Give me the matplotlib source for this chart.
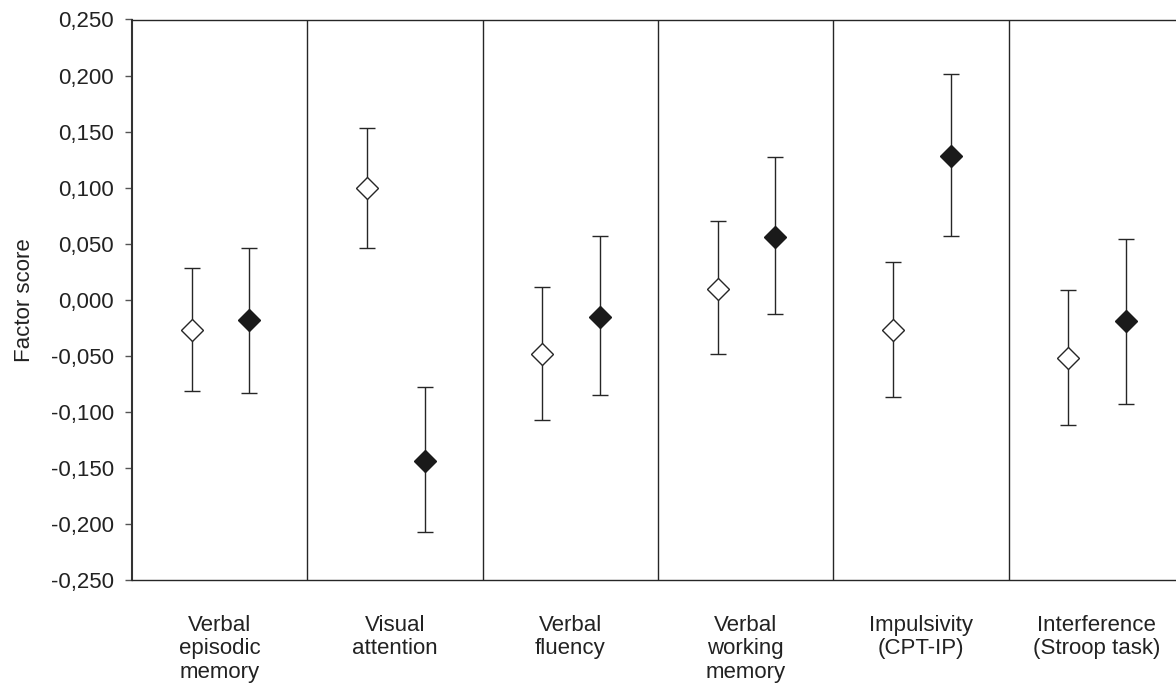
import matplotlib
matplotlib.use("Agg")
import matplotlib.pyplot as plt
from matplotlib.ticker import FuncFormatter, MultipleLocator
import numpy as np

categories = ["Verbal\nepisodic\nmemory", "Visual\nattention", "Verbal\nfluency",
              "Verbal\nworking\nmemory", "Impulsivity\n(CPT-IP)", "Interference\n(Stroop task)"]

open_mean = [-0.027, 0.100, -0.048, 0.010, -0.027, -0.052]
open_upper = [0.028, 0.153, 0.011, 0.070, 0.034, 0.009]
open_lower = [-0.081, 0.046, -0.107, -0.048, -0.087, -0.112]

filled_mean = [-0.018, -0.144, -0.015, 0.056, 0.128, -0.019]
filled_upper = [0.046, -0.078, 0.057, 0.127, 0.201, 0.054]
filled_lower = [-0.083, -0.207, -0.085, -0.013, 0.057, -0.093]

plt.rcParams['font.family'] = ['Liberation Sans', 'DejaVu Sans']

W, H = 1176, 689
fig = plt.figure(figsize=(W / 100, H / 100), dpi=100)
left_px, right_px, top_px, bot_px = 132, 1184, 19.5, 580
ax = fig.add_axes([left_px / W, 1 - bot_px / H, (right_px - left_px) / W, (bot_px - top_px) / H])

dark = "#262626"
x = np.arange(len(categories))
xo = x - 0.16
xf = x + 0.17

om = np.array(open_mean)
fm = np.array(filled_mean)
oerr = [om - np.array(open_lower), np.array(open_upper) - om]
ferr = [fm - np.array(filled_lower), np.array(filled_upper) - fm]

ax.errorbar(xo, om, yerr=oerr, fmt='D', ms=11.5, mfc='white', mec=dark, mew=1.0,
            ecolor=dark, elinewidth=1.0, capsize=5.5, capthick=1.0, zorder=3)
ax.errorbar(xf, fm, yerr=ferr, fmt='D', ms=11.5, mfc='#1a1a1a', mec='#1a1a1a', mew=1.0,
            ecolor=dark, elinewidth=1.0, capsize=5.5, capthick=1.0, zorder=3)

for b in np.arange(0.5, len(categories) - 0.5 + 0.01, 1.0):
    ax.axvline(b, color=dark, lw=1.0, zorder=1)

ax.set_xlim(-0.5, len(categories) - 0.5)
ax.set_ylim(-0.25, 0.25)
ax.yaxis.set_major_locator(MultipleLocator(0.05))

def fmt(v, pos):
    v = round(v, 3)
    if abs(v) < 1e-9:
        v = 0.0
    return f"{v:.3f}".replace('.', ',')

ax.yaxis.set_major_formatter(FuncFormatter(fmt))
ax.tick_params(axis='y', direction='out', length=5, width=1.0, color='#555555',
               labelsize=16, labelcolor='#222222', pad=8)
ax.set_xticks(x)
ax.set_xticklabels(categories, linespacing=1.15)
ax.tick_params(axis='x', length=0, labelsize=16, labelcolor='#222222', pad=25)

for s in ['top', 'bottom']:
    ax.spines[s].set_color(dark)
    ax.spines[s].set_linewidth(1.0)
ax.spines['left'].set_color('#333333')
ax.spines['left'].set_linewidth(1.5)
ax.spines['right'].set_visible(False)

fig.text(25 / W, 1 - 299.75 / H, "Factor score", rotation=90, ha='center', va='center',
         fontsize=16, color='#222222')

fig.savefig("out.png", dpi=100)
